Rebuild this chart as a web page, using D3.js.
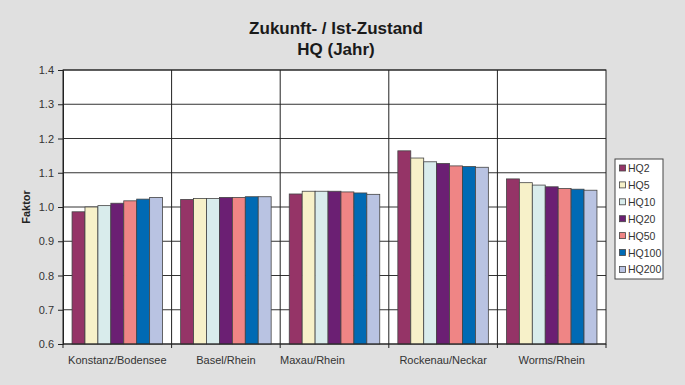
<!DOCTYPE html>
<html>
<head>
<meta charset="utf-8">
<script src="https://cdn.jsdelivr.net/npm/d3@7"></script>
<style>
  body { margin: 0; background: #e0e0e0; }
  svg { display: block; font-family: "Liberation Sans", Arial, sans-serif; }
</style>
</head>
<body>
<svg id="chart"></svg>
<script>
// Zukunft- / Ist-Zustand, Faktor je Pegel und HQ-Jährlichkeit

const stations = ["Konstanz/Bodensee", "Basel/Rhein", "Maxau/Rhein", "Rockenau/Neckar", "Worms/Rhein"];
const series = ["HQ2", "HQ5", "HQ10", "HQ20", "HQ50", "HQ100", "HQ200"];
const colors = ["#953467", "#f7f1c9", "#d9ecec", "#6b1f73", "#ef8585", "#006ab4", "#b9c3e2"];

// one array per series, values in station order
const hq2   = [0.986, 1.022, 1.038, 1.164, 1.082];
const hq5   = [1.000, 1.025, 1.046, 1.143, 1.071];
const hq10  = [1.004, 1.025, 1.046, 1.132, 1.064];
const hq20  = [1.011, 1.028, 1.046, 1.127, 1.059];
const hq50  = [1.018, 1.028, 1.044, 1.120, 1.054];
const hq100 = [1.023, 1.030, 1.041, 1.118, 1.052];
const hq200 = [1.028, 1.030, 1.037, 1.116, 1.049];
const yTicks = [0.6, 0.7, 0.8, 0.9, 1.0, 1.1, 1.2, 1.3, 1.4];

const values = [hq2, hq5, hq10, hq20, hq50, hq100, hq200];

const width = 685;
const height = 385;
const margin = { top: 70, right: 79, bottom: 41, left: 63 };

const svg = d3.select("#chart")
    .attr("width", width)
    .attr("height", height);

const x0 = d3.scaleBand()
    .domain(stations)
    .range([margin.left, width - margin.right]);

const x1 = d3.scaleBand()
    .domain(series)
    .range([0, x0.bandwidth()])
    .paddingOuter(0.7)
    .paddingInner(0);

const y = d3.scaleLinear()
    .domain([0.6, 1.4])
    .range([height - margin.bottom, margin.top]);

const color = d3.scaleOrdinal().domain(series).range(colors);

// plot area
svg.append("rect")
    .attr("x", margin.left)
    .attr("y", margin.top)
    .attr("width", width - margin.left - margin.right)
    .attr("height", height - margin.top - margin.bottom)
    .attr("fill", "#fff");

// horizontal gridlines
svg.append("g")
    .selectAll("line")
    .data(yTicks)
    .join("line")
    .attr("x1", margin.left)
    .attr("x2", width - margin.right)
    .attr("y1", d => y(d))
    .attr("y2", d => y(d))
    .attr("stroke", "#333")
    .attr("stroke-width", 1);

// vertical separators between stations
svg.append("g")
    .selectAll("line")
    .data(stations.slice(1))
    .join("line")
    .attr("x1", d => x0(d))
    .attr("x2", d => x0(d))
    .attr("y1", margin.top)
    .attr("y2", height - margin.bottom + 4)
    .attr("stroke", "#222")
    .attr("stroke-width", 1);

// bars
const rows = stations.map((s, i) => ({
    station: s,
    bars: series.map((k, j) => ({ key: k, value: values[j][i] }))
}));

svg.append("g")
    .selectAll("g")
    .data(rows)
    .join("g")
    .attr("transform", d => `translate(${x0(d.station)},0)`)
    .selectAll("rect")
    .data(d => d.bars)
    .join("rect")
    .attr("x", d => x1(d.key))
    .attr("y", d => y(d.value))
    .attr("width", x1.bandwidth())
    .attr("height", d => y(0.6) - y(d.value))
    .attr("fill", d => color(d.key))
    .attr("stroke", "#444")
    .attr("stroke-width", 0.8);

// frame
svg.append("rect")
    .attr("x", margin.left)
    .attr("y", margin.top)
    .attr("width", width - margin.left - margin.right)
    .attr("height", height - margin.top - margin.bottom)
    .attr("fill", "none")
    .attr("stroke", "#222")
    .attr("stroke-width", 1);

// y axis
const yAxis = svg.append("g")
    .attr("transform", `translate(${margin.left},0)`)
    .call(d3.axisLeft(y).tickValues(yTicks).tickFormat(d3.format(".1f")).tickSize(5).tickPadding(4));
yAxis.select(".domain").attr("stroke", "#222");
yAxis.selectAll(".tick line").attr("stroke", "#222");
yAxis.selectAll("text")
    .attr("fill", "#333")
    .style("font-size", "11px")
    .style("font-family", "Liberation Sans, Arial, sans-serif");

// x tick marks at outer category edges
svg.append("g")
    .selectAll("line")
    .data([margin.left, width - margin.right])
    .join("line")
    .attr("x1", d => d)
    .attr("x2", d => d)
    .attr("y1", height - margin.bottom)
    .attr("y2", height - margin.bottom + 4)
    .attr("stroke", "#222");

// x labels (Maxau sits left of centre in the original)
const labelShift = { "Maxau/Rhein": -22 };
svg.append("g")
    .selectAll("text")
    .data(stations)
    .join("text")
    .attr("x", d => x0(d) + x0.bandwidth() / 2 + (labelShift[d] || 0))
    .attr("y", height - margin.bottom + 20)
    .attr("text-anchor", "middle")
    .attr("fill", "#333")
    .style("font-size", "11px")
    .text(d => d);

// y label
svg.append("text")
    .attr("transform", `translate(30,${(margin.top + height - margin.bottom) / 2}) rotate(-90)`)
    .attr("text-anchor", "middle")
    .attr("font-weight", "bold")
    .attr("fill", "#222")
    .style("font-size", "11px")
    .text("Faktor");

// title
svg.append("text")
    .attr("x", 336)
    .attr("y", 34)
    .attr("text-anchor", "middle")
    .attr("font-weight", "bold")
    .attr("fill", "#1a1a1a")
    .style("font-size", "17px")
    .text("Zukunft- / Ist-Zustand");
svg.append("text")
    .attr("x", 336)
    .attr("y", 55)
    .attr("text-anchor", "middle")
    .attr("font-weight", "bold")
    .attr("fill", "#1a1a1a")
    .style("font-size", "17px")
    .text("HQ (Jahr)");

// legend
const legend = svg.append("g").attr("transform", "translate(615,159)");
legend.append("rect")
    .attr("width", 48)
    .attr("height", 120)
    .attr("fill", "#fff")
    .attr("stroke", "#444");
const item = legend.selectAll("g")
    .data(series)
    .join("g")
    .attr("transform", (d, i) => `translate(4,${9 + i * 16.9})`);
item.append("rect")
    .attr("x", 0.5)
    .attr("y", -3)
    .attr("width", 6)
    .attr("height", 6)
    .attr("fill", d => color(d))
    .attr("stroke", "#444")
    .attr("stroke-width", 0.8);
item.append("text")
    .attr("x", 9)
    .attr("y", 4)
    .attr("fill", "#333")
    .style("font-size", "10.5px")
    .text(d => d);
</script>
</body>
</html>
